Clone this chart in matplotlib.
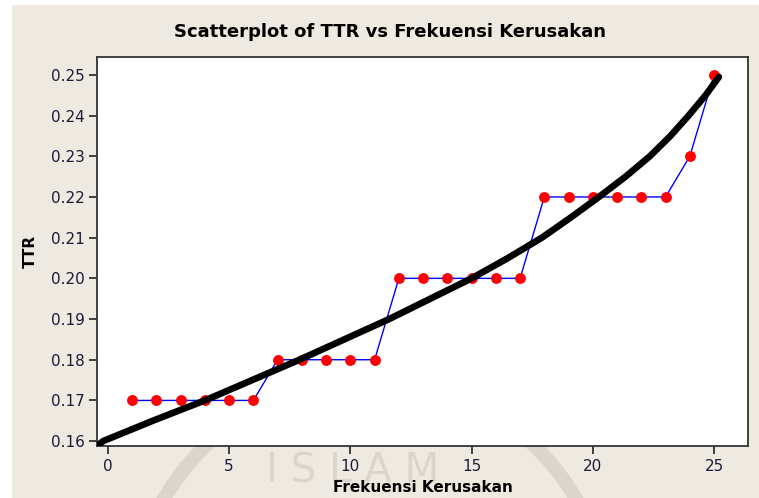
import matplotlib
matplotlib.use("Agg")
import matplotlib.pyplot as plt
from matplotlib.patches import Rectangle, Ellipse

# ---- data ----
freq = list(range(1, 26))
ttr = [0.17, 0.17, 0.17, 0.17, 0.17, 0.17,
       0.18, 0.18, 0.18, 0.18, 0.18,
       0.20, 0.20, 0.20, 0.20, 0.20, 0.20,
       0.22, 0.22, 0.22, 0.22, 0.22, 0.22,
       0.23, 0.25]

# fitted curve
fit_x = [-0.45, -0.2, 1.85, 4.0, 5.95, 7.9, 9.75, 11.6, 13.3, 15.0, 16.5,
         17.9, 19.1, 20.25, 21.35, 22.35, 23.2, 23.95, 24.65, 25.2]
fit_y = [0.1588, 0.160, 0.165, 0.170, 0.175, 0.180, 0.185, 0.190, 0.195, 0.200, 0.205,
         0.210, 0.215, 0.220, 0.225, 0.230, 0.235, 0.240, 0.245, 0.2495]

xticks = [0, 5, 10, 15, 20, 25]
yticks = [0.16, 0.17, 0.18, 0.19, 0.20, 0.21, 0.22, 0.23, 0.24, 0.25]

W, H = 759, 498
BG = "#EEEAE1"
TXT = "#1C1C38"
WM = "#DAD6CE"

fig = plt.figure(figsize=(W / 100, H / 100), dpi=100)
fig.patch.set_facecolor("white")
# beige panel (white strip at top and left)
fig.patches.append(Rectangle((12 / W, 0), 1 - 12 / W, 1 - 5 / H, transform=fig.transFigure,
                             facecolor=BG, edgecolor="none", zorder=-3))
# faint watermark
R = 238
fig.patches.append(Ellipse((370 / W, 1 - 618 / H), 2 * R / W, 2 * R / H,
                           transform=fig.transFigure, facecolor="none",
                           edgecolor=WM, linewidth=10, zorder=-2))
fig.text(353 / W, 1 - 471 / H, "I S L A M", transform=fig.transFigure, fontsize=29,
         color=WM, ha="center", va="center", zorder=-2)

ax = fig.add_axes([97 / W, 1 - 446 / H, (748 - 97) / W, (446 - 57) / H])
ax.set_facecolor("white")

ax.plot(freq, ttr, color="#0000FF", linewidth=1.0, zorder=2)
ax.plot(freq, ttr, linestyle="none", marker="o", markersize=6.8,
        markerfacecolor="#FF0000", markeredgecolor="#FF0000", zorder=3)
ax.plot(fit_x, fit_y, color="black", linewidth=4.8, solid_capstyle="round",
        solid_joinstyle="round", zorder=4)

ax.set_xlim(-0.45, 26.4)
ax.set_ylim(0.1588, 0.2544)
ax.set_xticks(xticks)
ax.set_xticklabels([str(v) for v in xticks])
ax.set_yticks(yticks)
ax.set_yticklabels([f"{v:.2f}" for v in yticks])

ax.tick_params(direction="out", length=6, width=1.2, color="#222222",
               labelsize=11, labelcolor=TXT, pad=3)
for s in ax.spines.values():
    s.set_color("#333333")
    s.set_linewidth(1.3)

ax.set_xlabel("Frekuensi Kerusakan", fontsize=11, fontweight="bold", color="black", labelpad=5)
ax.set_ylabel("TTR", fontsize=11, fontweight="bold", color="black", labelpad=9)
fig.text(390 / W, 1 - 32 / H, "Scatterplot of TTR vs Frekuensi Kerusakan",
         fontsize=13, fontweight="bold", ha="center", va="center", color="black")

fig.savefig("out.png", dpi=100, facecolor=fig.get_facecolor())
